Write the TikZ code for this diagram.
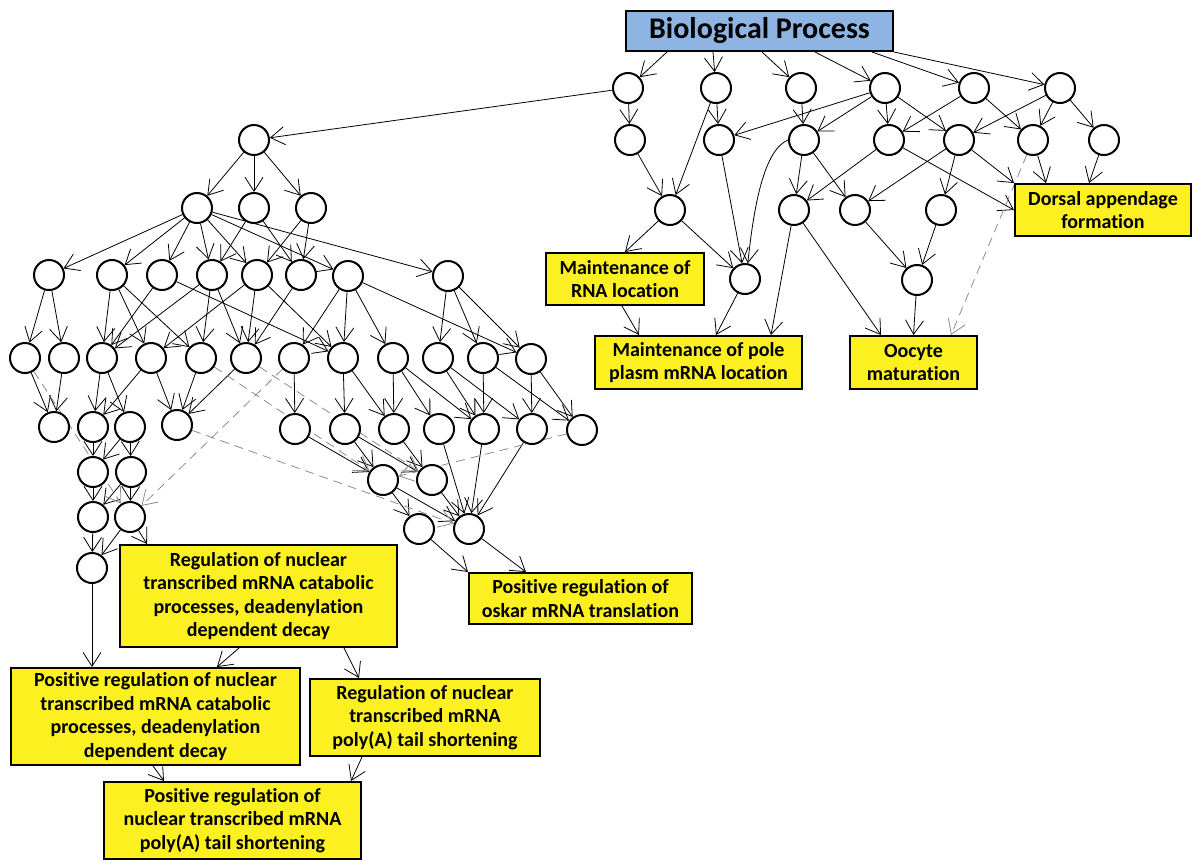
\documentclass[tikz,border=0pt]{standalone}
\usepackage{fontspec}
\setmainfont{Carlito}[Ligatures=NoCommon]
\usetikzlibrary{arrows.meta}
\definecolor{goyellow}{RGB}{252,240,32}
\definecolor{goblue}{RGB}{141,180,226}
\definecolor{godash}{RGB}{140,140,140}
\pgfdeclarelayer{bg}
\pgfsetlayers{bg,main}

\begin{document}
\begin{tikzpicture}[x=0.5pt,y=-0.5pt,>={Straight Barb[length=7pt,width=9pt]},line width=1pt]
\tikzstyle{term}=[draw,circle,fill=white,minimum size=15pt,inner sep=0pt]
\tikzstyle{box}=[draw,fill=goyellow,align=center,inner sep=0pt,font=\fontsize{10}{11.7}\selectfont\bfseries]
\tikzstyle{weak}=[->,godash,dash pattern=on 4.5pt off 3pt]
\useasboundingbox (0,0) rectangle (1194,859);
\node[draw,fill=goblue,minimum width=133.5pt,minimum height=20pt,font=\fontsize{15}{18}\selectfont\bfseries] (bp) at (759.5,31) {Biological Process};
\node[term] (a1) at (628,88) {}; \node[term] (a2) at (716,88) {}; \node[term] (a3) at (801,88) {};
\node[term] (a4) at (885,88) {}; \node[term] (a5) at (974,88) {}; \node[term] (a6) at (1060,88) {};
\node[term] (b1) at (630,140) {}; \node[term] (b2) at (719,140) {}; \node[term] (b3) at (804,140) {};
\node[term] (b4) at (889,140) {}; \node[term] (b5) at (959,140) {}; \node[term] (b6) at (1033,140) {};
\node[term] (b7) at (1104,140) {};
\node[term] (c1) at (670,210) {}; \node[term] (c2) at (794,210) {}; \node[term] (c3) at (855,210) {};
\node[term] (c4) at (941,210) {};
\node[term] (d1) at (745,279) {}; \node[term] (d2) at (917,280) {};
\node[box,minimum width=88pt,minimum height=26pt] (dorsal) at (1103,210) {Dorsal appendage\\formation};
\node[box,minimum width=79pt,minimum height=26pt] (rnaloc) at (625,279) {Maintenance of\\RNA location};
\node[box,minimum width=103.5pt,minimum height=26.5pt] (pole) at (698.5,362.5) {Maintenance of pole\\plasm mRNA location};
\node[box,minimum width=63.5pt,minimum height=26.5pt] (oocyte) at (913.5,362.5) {Oocyte\\maturation};
\node[term] (l0) at (254,140) {};
\node[term] (k1) at (197,208) {}; \node[term] (k2) at (254,208) {}; \node[term] (k3) at (311,208) {};
\node[term] (p1) at (49,275) {}; \node[term] (p2) at (112,275) {}; \node[term] (p3) at (162,275) {};
\node[term] (p4) at (212,275) {}; \node[term] (p5) at (257,275) {}; \node[term] (p6) at (301,275) {};
\node[term] (p7) at (348,276) {}; \node[term] (p8) at (448,276) {};
\node[term] (q1) at (25,358) {}; \node[term] (q2) at (64,358) {}; \node[term] (q3) at (102,358) {};
\node[term] (q4) at (151,358) {}; \node[term] (q5) at (201,358) {}; \node[term] (q6) at (246,358) {};
\node[term] (q7) at (294,358) {}; \node[term] (q8) at (343,358) {}; \node[term] (q9) at (393,358) {};
\node[term] (q10) at (438,358) {}; \node[term] (q11) at (483,358) {}; \node[term] (q12) at (531,359) {};
\node[term] (r1) at (54,427) {}; \node[term] (r2) at (93,427) {}; \node[term] (r3) at (130,427) {};
\node[term] (r4) at (177,425) {}; \node[term] (r5) at (295,429) {}; \node[term] (r6) at (345,429) {};
\node[term] (r7) at (394,429) {}; \node[term] (r8) at (439,429) {}; \node[term] (r9) at (484,429) {};
\node[term] (r10) at (532,429) {}; \node[term] (r11) at (582,430) {};
\node[term] (s1) at (93,472) {}; \node[term] (s2) at (131,472) {};
\node[term] (t1) at (93,517) {}; \node[term] (t2) at (130,517) {};
\node[term] (u1) at (92,568) {};
\node[term] (m1) at (383,480) {}; \node[term] (m2) at (432,480) {};
\node[term] (m3) at (419,529) {}; \node[term] (m4) at (469,529) {};
\node[box,minimum width=111.5pt,minimum height=25.5pt] (oskar) at (580.5,598.5) {Positive regulation of\\oskar mRNA translation};
\node[box,minimum width=138.5pt,minimum height=51pt] (decay) at (258.5,596) {Regulation of nuclear\\transcribed mRNA catabolic\\processes, deadenylation\\dependent decay};
\node[box,minimum width=144.5pt,minimum height=48.5pt] (posdecay) at (155.5,716.5) {Positive regulation of nuclear\\transcribed mRNA catabolic\\processes, deadenylation\\dependent decay};
\node[box,minimum width=115pt,minimum height=38.5pt] (polya) at (425,717.5) {Regulation of nuclear\\transcribed mRNA\\poly(A) tail shortening};
\node[box,minimum width=128.5pt,minimum height=38.5pt] (pospolya) at (232.5,820.5) {Positive regulation of\\nuclear transcribed mRNA\\poly(A) tail shortening};
\begin{pgfonlayer}{bg}
\draw[->] ([xshift=21pt]bp.south west) -- (a1); \draw[->] ([xshift=44pt]bp.south west) -- (a2);
\draw[->] ([xshift=68.5pt]bp.south west) -- (a3); \draw[->] ([xshift=95pt]bp.south west) -- (a4);
\draw[->] ([xshift=123.5pt]bp.south west) -- (a5); \draw[->] (bp.south east) -- (a6);
\draw[->] (a1) -- (l0); \draw[->] (a1) -- (b1);
\draw[->] (a2) -- (b2); \draw[->] (a2) -- (c1); \draw[->] (a3) -- (b3);
\draw[->] (a4) -- (b2); \draw[->] (a4) -- (b3); \draw[->] (a4) -- (b4); \draw[->] (a4) -- (b5);
\draw[->] (a5) -- (b4); \draw[->] (a5) -- (b6);
\draw[->] (a6) -- (b5); \draw[->] (a6) -- (b6); \draw[->] (a6) -- (b7);
\draw[->] (b1) -- (c1); \draw[->] (b2) -- (d1);
\draw[->] (b3.west) .. controls (764,150) and (754,205) .. (d1.80);
\draw[->] (b3) -- (c2); \draw[->] (b3) -- (c3);
\draw[->] (b4) -- (c2); \draw[->] (b4) -- (dorsal.west);
\draw[->] (b5) -- (c3); \draw[->] (b5) -- (c4); \draw[->] (b5) -- (dorsal.north west);
\draw[->] (b6) -- ([xshift=16pt]dorsal.north west); \draw[->] (b7) -- ([xshift=37.5pt]dorsal.north west);
\draw[weak] (b6) -- ([xshift=-13.5pt]oocyte.north east);
\draw[->] (c1) -- (rnaloc.north); \draw[->] (c1) -- (d1);
\draw[->] (d1) -- ([xshift=61pt]pole.north west);
\draw[->] ([xshift=38.5pt]rnaloc.south west) -- ([xshift=22.5pt]pole.north west);
\draw[->] (c2) -- ([xshift=-16pt]pole.north east); \draw[->] (c2) -- ([xshift=16pt]oocyte.north west);
\draw[->] (c3) -- (d2); \draw[->] (c4) -- (d2); \draw[->] (d2) -- (oocyte.north);
\draw[->] (l0) -- (k1); \draw[->] (l0) -- (k2); \draw[->] (l0) -- (k3);
\draw[->] (k1) -- (p1); \draw[->] (k1) -- (p2); \draw[->] (k1) -- (p3); \draw[->] (k1) -- (p4);
\draw[->] (k1) -- (p5); \draw[->] (k1) -- (p7); \draw[->] (k1) -- (p8);
\draw[->] (k2) -- (p4); \draw[->] (k2) -- (p6); \draw[->] (k3) -- (p5); \draw[->] (k3) -- (p6);
\draw[->] (p1) -- (q1); \draw[->] (p1) -- (q2);
\draw[->] (p2) -- (q3); \draw[->] (p2) -- (q4); \draw[->] (p2) -- (q5);
\draw[->] (p3) -- (q3); \draw[->] (p3) -- (q8);
\draw[->] (p4) -- (q3); \draw[->] (p4) -- (q5); \draw[->] (p4) -- (q6);
\draw[->] (p5) -- (q4); \draw[->] (p5) -- (q6); \draw[->] (p5) -- (q8);
\draw[->] (p6) -- (q6);
\draw[->] (p7) -- (q7); \draw[->] (p7) -- (q8); \draw[->] (p7) -- (q9); \draw[->] (p7) -- (q12);
\draw[->] (p8) -- (q10); \draw[->] (p8) -- (q11); \draw[->] (p8) -- (q12);
\draw[->] (q1) -- (r1); \draw[->] (q2) -- (r1);
\draw[->] (q3) -- (r2); \draw[->] (q3) -- (r3); \draw[->] (q4) -- (r2); \draw[->] (q4) -- (r4);
\draw[->] (q5) -- (r4); \draw[->] (q6) -- (r4); \draw[->] (q7) -- (r5);
\draw[->] (q8) -- (r6); \draw[->] (q8) -- (r7);
\draw[->] (q9) -- (r7); \draw[->] (q9) -- (r8); \draw[->] (q9) -- (r9);
\draw[->] (q10) -- (r9); \draw[->] (q10) -- (r10);
\draw[->] (q11) -- (r9); \draw[->] (q11) -- (r11);
\draw[->] (q12) -- (r10); \draw[->] (q12) -- (r11);
\draw[->] (r2) -- (s1); \draw[->] (r3) -- (s1); \draw[->] (r3) -- (s2);
\draw[->] (s1) -- (t1); \draw[->] (s2) -- (t1); \draw[->] (s2) -- (t2);
\draw[->] (t1) -- (u1); \draw[->] (t2) -- (u1);
\draw[->] (t2) -- ([xshift=14pt]decay.north west);
\draw[->] (u1) -- (u1 |- posdecay.north);
\draw[->] (r5) -- (m1); \draw[->] (r6) -- (m1); \draw[->] (r6) -- (m2); \draw[->] (r7) -- (m2);
\draw[->] (r8) -- (m4); \draw[->] (r9) -- (m4); \draw[->] (r10) -- (m4);
\draw[->] (m1) -- (m3); \draw[->] (m1) -- (m4); \draw[->] (m2) -- (m4);
\draw[->] (m3) -- (oskar.north west); \draw[->] (m4) -- ([xshift=29pt]oskar.north west);
\draw[->] ([xshift=60pt]decay.south west) -- ([xshift=103.5pt]posdecay.north west);
\draw[->] ([xshift=112.5pt]decay.south west) -- ([xshift=25pt]polya.north west);
\draw[->] ([xshift=71.5pt]posdecay.south west) -- ([xshift=30.5pt]pospolya.north west);
\draw[->] ([xshift=26.5pt]polya.south west) -- ([xshift=-5.5pt]pospolya.north east);
\draw[weak] (q1) -- (t2); \draw[weak] (q7) -- (t2);
\draw[weak] (q5) -- (m1); \draw[weak] (q6) -- (m2);
\draw[weak] (r4) -- (m4); \draw[weak] (r11) -- (m1);
\end{pgfonlayer}
\end{tikzpicture}
\end{document}
